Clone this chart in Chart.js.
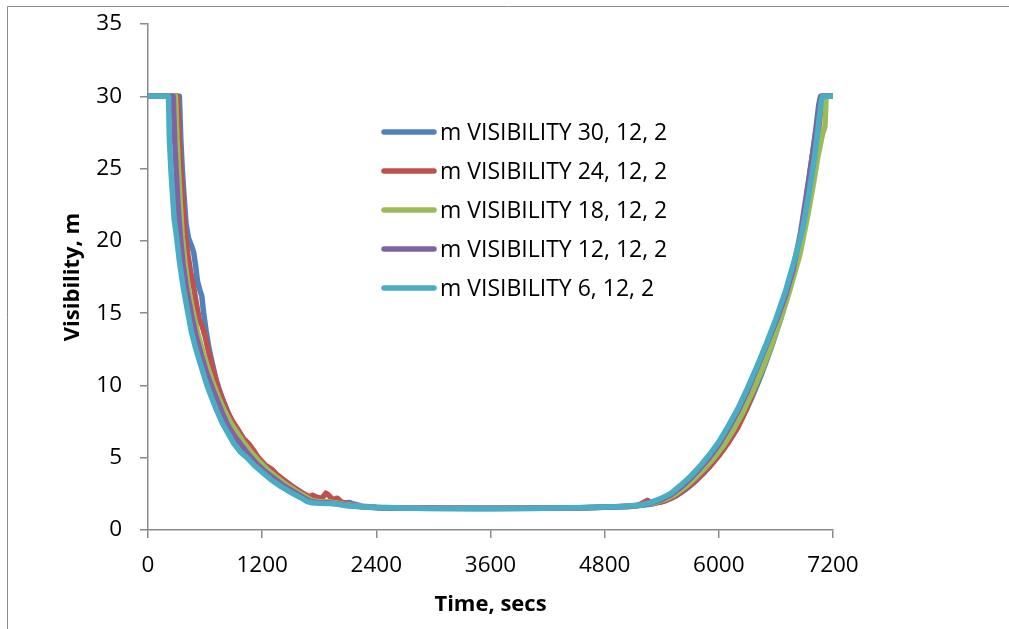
<!DOCTYPE html>
<html>
<head>
<meta charset="utf-8">
<script src="https://cdn.jsdelivr.net/npm/chart.js@4.4.1/dist/chart.umd.min.js"></script>
<style>
  html, body { margin: 0; padding: 0; background: #fff; }
  #grafico { display: block; }
</style>
</head>
<body>
<canvas id="grafico" width="1009" height="629"></canvas>
<script>
// --- Datos: [segundos, visibilidad m] ---
const serieAzul = [[0,30],[330,30],[345,27],[360,25],[380,23],[400,21.2],[425,20.2],[455,19.7],[480,19.2],[500,18.3],[520,17.2],[545,16.6],[565,16.2],[585,15],[610,13.8],[640,12.6],[680,11.4],[720,10.3],[770,9.3],[830,8.3],[890,7.4],[950,6.7],[1020,6.0],[1090,5.4],[1170,4.8],[1250,4.25],[1340,3.75],[1440,3.25],[1540,2.8],[1640,2.4],[1740,2.1],[1850,1.97],[1950,1.92],[2050,1.87],[2120,1.9],[2160,1.8],[2250,1.65],[2400,1.57],[2700,1.52],[3200,1.5],[3800,1.5],[4400,1.52],[4800,1.58],[5100,1.65],[5300,1.8],[5450,2.05],[5550,2.35],[5650,2.8],[5750,3.35],[5850,4.0],[5950,4.75],[6050,5.6],[6150,6.6],[6250,7.8],[6350,9.2],[6450,10.8],[6550,12.6],[6650,14.6],[6750,16.8],[6850,19.6],[6910,22.4],[6960,24.8],[7010,27.2],[7050,29.4],[7070,30],[7200,30]];

const serieRoja = [[0,30],[310,30],[325,27.5],[345,25],[370,22.5],[390,20.5],[420,19],[450,17.8],[480,16.8],[510,15.6],[540,14.5],[570,14.1],[600,13.4],[630,12.5],[660,11.7],[700,10.7],[740,9.8],[790,8.9],[840,8.1],[890,7.5],[950,6.9],[1000,6.35],[1060,5.95],[1100,5.6],[1160,5.0],[1230,4.5],[1300,4.2],[1360,3.8],[1420,3.5],[1500,3.1],[1580,2.75],[1650,2.45],[1700,2.3],[1730,2.4],[1780,2.25],[1830,2.2],[1870,2.55],[1900,2.4],[1940,2.1],[1990,2.2],[2030,1.95],[2100,1.8],[2200,1.65],[2400,1.56],[2700,1.52],[3300,1.5],[3900,1.5],[4500,1.53],[4900,1.6],[5150,1.7],[5250,2.05],[5300,1.85],[5400,1.95],[5500,2.2],[5600,2.6],[5700,3.1],[5800,3.7],[5900,4.35],[6000,5.15],[6100,6.05],[6200,7.1],[6300,8.5],[6400,10.2],[6500,11.9],[6600,13.8],[6700,15.9],[6800,18.0],[6880,20.2],[6950,22.8],[7000,25.0],[7040,27.1],[7070,29.0],[7095,30],[7200,30]];

const serieVerde = [[0,30],[290,30],[305,27],[320,25],[340,22.5],[360,20.3],[390,18.4],[430,16.5],[470,15.2],[520,13.7],[570,12.5],[620,11.4],[680,10.2],[740,9.2],[800,8.3],[870,7.4],[940,6.7],[1010,6.0],[1080,5.4],[1160,4.8],[1250,4.2],[1350,3.65],[1450,3.15],[1550,2.72],[1650,2.32],[1720,2.05],[1800,1.95],[1900,1.95],[2000,1.85],[2100,1.75],[2250,1.62],[2450,1.55],[2800,1.5],[3500,1.48],[4200,1.5],[4700,1.55],[5100,1.65],[5300,1.85],[5450,2.15],[5550,2.5],[5650,3.0],[5750,3.6],[5850,4.25],[5950,5.0],[6050,5.85],[6150,6.9],[6250,8.1],[6350,9.5],[6450,11.0],[6550,12.7],[6650,14.6],[6750,16.7],[6850,19.0],[6930,21.6],[6990,23.8],[7040,25.8],[7090,27.4],[7115,27.9],[7128,30],[7200,30]];

const serieMorada = [[0,30],[265,30],[280,27],[295,25],[315,22.5],[340,20.3],[370,18.3],[410,16.5],[460,14.8],[510,13.3],[560,12.1],[610,11.0],[660,10.1],[720,9.1],[780,8.1],[850,7.1],[920,6.4],[990,5.8],[1060,5.2],[1140,4.6],[1230,4.05],[1330,3.55],[1430,3.05],[1530,2.65],[1630,2.25],[1700,2.0],[1780,1.9],[1900,1.88],[2000,1.8],[2100,1.7],[2250,1.6],[2450,1.53],[2800,1.5],[3500,1.48],[4200,1.5],[4700,1.55],[5050,1.63],[5250,1.8],[5400,2.1],[5500,2.45],[5600,2.95],[5700,3.55],[5800,4.25],[5900,5.0],[6000,5.9],[6100,7.0],[6200,8.2],[6300,9.6],[6400,11.2],[6500,12.8],[6600,14.4],[6700,16.2],[6780,18.0],[6860,20.6],[6930,23.6],[6980,25.8],[7030,28.0],[7060,29.6],[7075,30],[7200,30]];

const serieCian = [[0,30],[215,30],[225,27],[240,25],[255,23.5],[275,21.5],[300,20.3],[330,18.6],[370,16.8],[420,15],[460,13.6],[500,12.6],[550,11.5],[610,10.2],[660,9.3],[720,8.3],[780,7.4],[840,6.7],[900,6.0],[970,5.4],[1040,5.0],[1120,4.45],[1200,4.0],[1290,3.5],[1400,3.0],[1500,2.6],[1600,2.25],[1670,1.98],[1720,1.88],[1800,1.85],[1900,1.83],[1980,1.8],[2060,1.7],[2200,1.62],[2400,1.55],[2700,1.5],[3000,1.48],[3600,1.47],[4200,1.5],[4600,1.55],[5000,1.62],[5200,1.75],[5300,1.95],[5400,2.2],[5500,2.55],[5600,3.1],[5700,3.7],[5800,4.4],[5900,5.2],[6000,6.1],[6100,7.2],[6200,8.4],[6300,9.8],[6400,11.3],[6500,12.9],[6600,14.6],[6700,16.5],[6800,18.8],[6880,20.8],[6950,23.4],[7000,25.5],[7040,27.6],[7075,29.6],[7090,30],[7200,30]];

const etiquetas = ['m VISIBILITY 30, 12, 2', 'm VISIBILITY 24, 12, 2', 'm VISIBILITY 18, 12, 2', 'm VISIBILITY 12, 12, 2', 'm VISIBILITY 6, 12, 2'];
const colores = ['#4F81BD', '#C0504D', '#9BBB59', '#8064A2', '#4BACC6'];
const series = [serieAzul, serieRoja, serieVerde, serieMorada, serieCian];

const colorEje = '#8a8a8a';
const fuente = '"Open Sans", Lato, sans-serif';

Chart.defaults.font.family = fuente;
Chart.defaults.font.size = 22.5;
Chart.defaults.color = '#000';

// Marco gris (arriba e izquierda) como en la captura
const marco = {
    id: 'marco',
    beforeDraw(chart) {
        const ctx = chart.ctx;
        ctx.save();
        ctx.strokeStyle = '#8c8c8c';
        ctx.lineWidth = 1;
        ctx.beginPath();
        ctx.moveTo(7.5, 629);
        ctx.lineTo(7.5, 6.5);
        ctx.lineTo(1009, 6.5);
        ctx.stroke();
        ctx.restore();
    }
};

// Leyenda dentro del área del gráfico
const leyenda = {
    id: 'leyendaInterna',
    afterDraw(chart) {
        const ctx = chart.ctx;
        ctx.save();
        ctx.font = '23px ' + fuente;
        ctx.textBaseline = 'middle';
        ctx.textAlign = 'left';
        chart.data.datasets.forEach((ds, i) => {
            const y = 132 + i * 39;
            ctx.strokeStyle = ds.borderColor;
            ctx.lineWidth = 5.5;
            ctx.lineCap = 'round';
            ctx.beginPath();
            ctx.moveTo(384, y);
            ctx.lineTo(434, y);
            ctx.stroke();
            ctx.fillStyle = '#000';
            ctx.fillText(ds.label, 440, y + 1);
        });
        ctx.restore();
    }
};

const datasets = series.map((s, i) => ({
    label: etiquetas[i],
    data: s.map(p => ({ x: p[0], y: p[1] })),
    borderColor: colores[i],
    backgroundColor: colores[i],
    borderWidth: 5.5,
    borderCapStyle: 'round',
    borderJoinStyle: 'round',
    pointRadius: 0,
    tension: 0,
    order: series.length - 1 - i   // la última serie queda encima
}));

new Chart(document.getElementById('grafico'), {
    type: 'line',
    data: { datasets },
    options: {
        responsive: false,
        animation: false,
        devicePixelRatio: 1,
        layout: { padding: { left: 0, right: 176, top: 24, bottom: 0 } },
        plugins: { legend: { display: false }, tooltip: { enabled: false } },
        scales: {
            x: {
                type: 'linear', min: 0, max: 7200,
                afterFit: s => { s.height = 99; s.paddingLeft = 0; s.paddingRight = 0; },
                ticks: { stepSize: 1200, padding: 14, maxRotation: 0, callback: v => String(v) },
                grid: { drawOnChartArea: false, tickLength: 8, color: colorEje, lineWidth: 1.5 },
                border: { color: colorEje, width: 1.5 },
                title: { display: true, text: 'Time, secs', font: { weight: 'bold', size: 22 }, padding: { top: 0, bottom: 11 } }
            },
            y: {
                type: 'linear', min: 0, max: 35,
                afterFit: s => { s.width = 148; s.paddingTop = 0; s.paddingBottom = 0; },
                ticks: { stepSize: 5, padding: 18, callback: v => String(v) },
                grid: { drawOnChartArea: false, tickLength: 8, color: colorEje, lineWidth: 1.5 },
                border: { color: colorEje, width: 1.5 },
                title: { display: true, text: 'Visibility, m', font: { weight: 'bold', size: 22 }, padding: { top: 60, bottom: 0 } }
            }
        }
    },
    plugins: [marco, leyenda]
});
</script>
</body>
</html>
